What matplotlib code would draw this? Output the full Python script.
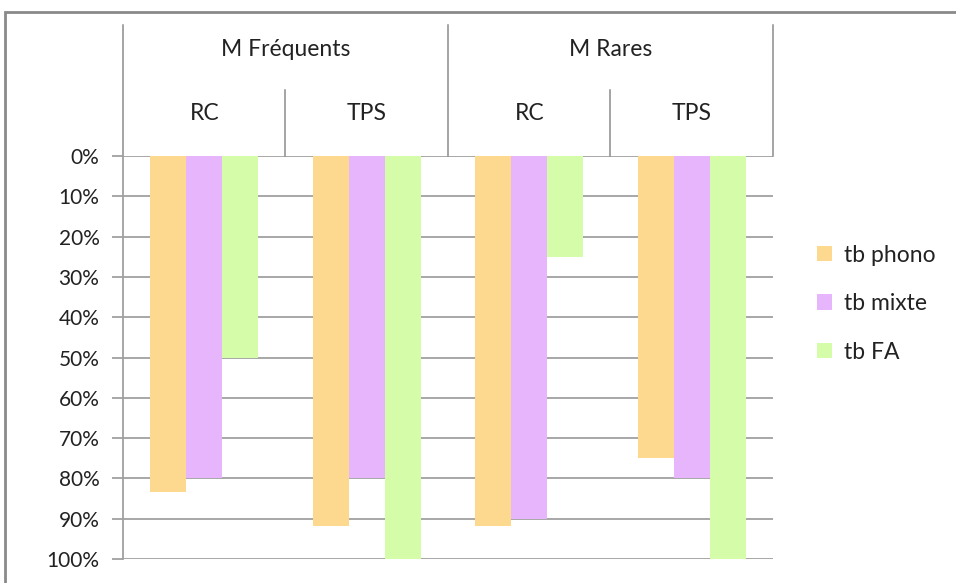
import matplotlib
matplotlib.use("Agg")
import matplotlib.pyplot as plt
import matplotlib.transforms as mtransforms
from matplotlib.patches import Rectangle
from matplotlib.lines import Line2D
import numpy as np

plt.rcParams['font.family'] = ['Lato', 'DejaVu Sans']

groups = ["M Fréquents", "M Rares"]
subcats = ["RC", "TPS", "RC", "TPS"]
series = ["tb phono", "tb mixte", "tb FA"]
tb_phono = [83.3, 91.7, 91.7, 75.0]
tb_mixte = [80.0, 80.0, 90.0, 80.0]
tb_fa = [50.0, 100.0, 25.0, 100.0]
colors = ["#FDD98F", "#E6B5FC", "#D5FDA9"]

FS = 16.5
W, H = 956, 583
fig = plt.figure(figsize=(W / 100, H / 100), dpi=100)
ax = fig.add_axes([123 / W, 1 - 559 / H, (773 - 123) / W, (559 - 156) / H])

x = np.arange(len(subcats))
bw = 0.222
for i, (vals, c, lab) in enumerate(zip([tb_phono, tb_mixte, tb_fa], colors, series)):
    ax.bar(x + (i - 1) * bw, vals, width=bw, color=c, label=lab, zorder=3)

ax.set_xlim(-0.5, len(subcats) - 0.5)
ax.set_ylim(100, 0)
ax.set_yticks(np.arange(0, 101, 10))
ax.set_yticklabels([f"{v}%" for v in range(0, 101, 10)], fontsize=15, color="#222222")
ax.set_xticks([])
ax.yaxis.grid(True, color="#A0A0A0", linewidth=1.3, zorder=0)
for s in ["top", "right", "bottom"]:
    ax.spines[s].set_visible(False)
ax.spines["left"].set_color("#A0A0A0")
ax.spines["left"].set_linewidth(1.3)
ax.tick_params(axis="y", length=8, width=1.3, color="#A0A0A0", pad=9)

# header table
tr = mtransforms.blended_transform_factory(ax.transData, ax.transAxes)
top_y = (559 - 25) / 403
mid_y = (559 - 90) / 403
lc = "#8C8C8C"
for xv in [-0.5, 1.5, 3.5]:
    ax.add_line(Line2D([xv, xv], [1, top_y], transform=tr, color=lc, lw=1.1, clip_on=False))
for xv in [0.5, 2.5]:
    ax.add_line(Line2D([xv, xv], [1, mid_y], transform=tr, color=lc, lw=1.1, clip_on=False))
for gi, g in enumerate(groups):
    ax.text(gi * 2 + 0.5, (559 - 49) / 403, g, transform=tr, ha="center", va="center",
            fontsize=FS, color="#222222")
for si, s in enumerate(subcats):
    ax.text(si, (559 - 114) / 403, s, transform=tr, ha="center", va="center",
            fontsize=FS, color="#222222")

leg = ax.legend(loc="upper left", bbox_to_anchor=(796 / W, 1 - 224 / H),
                bbox_transform=fig.transFigure, frameon=False, fontsize=FS,
                handlelength=0.68, handleheight=0.68, labelspacing=1.2, handletextpad=0.5)
for t in leg.get_texts():
    t.set_color("#222222")

# outer frame
fig.patches.append(Rectangle((5 / W, -0.1), 1.2, 1 - 12 / H + 0.1, transform=fig.transFigure,
                             fill=False, edgecolor="#8A8A8A", linewidth=2))

fig.savefig("out.png", dpi=100)
